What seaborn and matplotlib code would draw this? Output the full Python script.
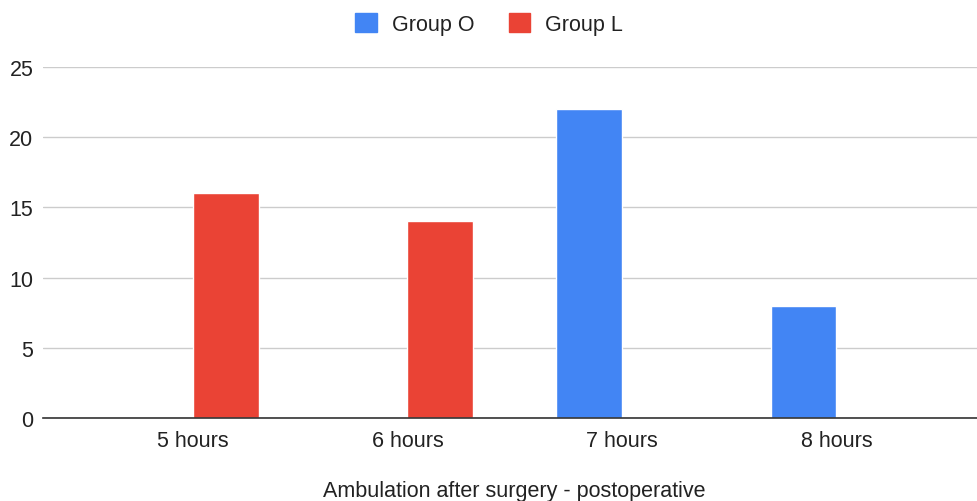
import matplotlib

matplotlib.use('Agg')
import matplotlib.pyplot as plt
import seaborn as sns
import pandas as pd
from matplotlib.patches import Patch

# data
categories = ['5 hours', '6 hours', '7 hours', '8 hours']
group_o = [0, 0, 22, 8]
group_l = [16, 14, 0, 0]
groups = ['Group O', 'Group L']
y_ticks = [0, 5, 10, 15, 20, 25]

BLUE, RED = '#4285F4', '#EA4335'
FS = 15.5

sns.set_theme(style='white')
plt.rcParams['font.family'] = ['Liberation Sans', 'DejaVu Sans']

df = pd.DataFrame({
    'category': categories * 2,
    'value': group_o + group_l,
    'group': [groups[0]] * len(categories) + [groups[1]] * len(categories),
})

fig = plt.figure(figsize=(9.77, 5.02), dpi=100)
ax = fig.add_axes([43 / 977, 1 - 419 / 502, 934 / 977, (419 - 68) / 502])

sns.barplot(data=df, x='category', y='value', hue='group', order=categories,
            hue_order=groups, palette={groups[0]: BLUE, groups[1]: RED},
            width=0.615, saturation=1, ax=ax, legend=False)

ax.set_xlim(-0.699, 3.655)
ax.set_ylim(0, 25)
ax.set_yticks(y_ticks)
ax.yaxis.grid(True, color='#cccccc', linewidth=1)
ax.set_axisbelow(True)
for s in ['top', 'right', 'left']:
    ax.spines[s].set_visible(False)
ax.spines['bottom'].set_color('#333333')
ax.spines['bottom'].set_linewidth(1.2)
ax.tick_params(axis='both', length=0, labelsize=FS, colors='#222222')
ax.tick_params(axis='x', pad=8.5)
ax.tick_params(axis='y', pad=7)
ax.set_ylabel('')
ax.set_xlabel('Ambulation after surgery - postoperative', fontsize=FS,
              color='#222222')
ax.xaxis.label.set_va('center')
ax.xaxis.set_label_coords((514 - 43) / 934, (419 - 492) / 351)

handles = [Patch(color=BLUE), Patch(color=RED)]
fig.legend(handles, groups, loc='center', bbox_to_anchor=(489 / 977, 1 - 25 / 502),
           ncol=2, frameon=False, fontsize=FS, handlelength=1.0, handleheight=1.0,
           columnspacing=1.6, handletextpad=0.7, labelcolor='#222222')

fig.savefig('out.png', dpi=100)
